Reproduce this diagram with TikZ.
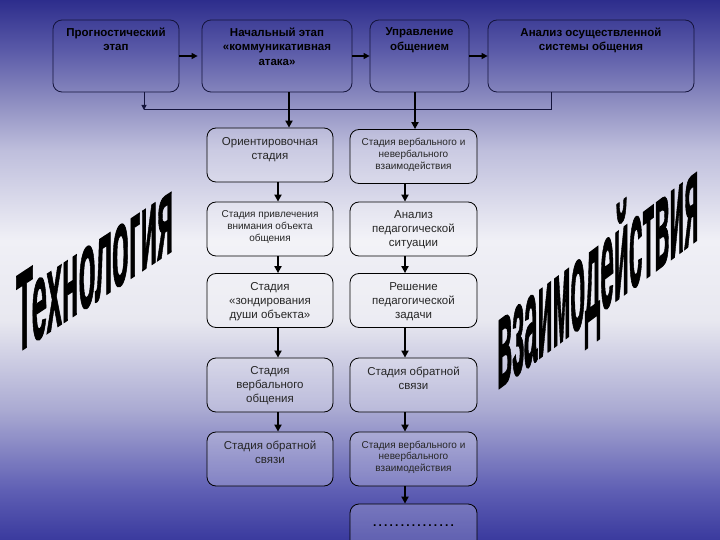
\documentclass[tikz,border=0pt]{standalone}
\usepackage{fontspec}
\setmainfont{Liberation Sans}
\newfontface\wafont{Liberation Sans Bold}[FakeBold=1.5]
\usetikzlibrary{arrows.meta}
\definecolor{s0}{RGB}{58,58,158}
\definecolor{s1}{RGB}{95,95,180}
\definecolor{s2}{RGB}{170,170,210}
\definecolor{s3}{RGB}{232,232,240}
\definecolor{s4}{RGB}{240,240,246}
\definecolor{s5}{RGB}{190,190,220}
\definecolor{s6}{RGB}{140,140,192}
\definecolor{s7}{RGB}{90,90,168}
\definecolor{s8}{RGB}{45,45,140}
\definecolor{topline}{RGB}{20,20,60}
\pgfdeclareverticalshading{bgshade}{100bp}{color(0bp)=(s0); color(25bp)=(s0); color(29.63bp)=(s1); color(37.04bp)=(s2); color(45.37bp)=(s3); color(52.78bp)=(s4); color(61.11bp)=(s5); color(65.74bp)=(s6); color(70.37bp)=(s7); color(75bp)=(s8); color(100bp)=(s8)}
\tikzset{
  topbox/.style={draw=topline, line width=0.8pt, rounded corners=9pt, minimum height=72pt, inner sep=0pt},
  colbox/.style={draw=black, line width=0.8pt, rounded corners=9pt, fill=white, fill opacity=0.2, minimum width=126pt, minimum height=54pt, inner sep=0pt},
  toptxt/.style={anchor=north, inner sep=0pt, align=center, font=\fontsize{11.5}{14.5}\selectfont\bfseries, text=black},
  bigtxt/.style={anchor=north, inner sep=0pt, align=center, font=\fontsize{11.5}{14}\selectfont, text=black!85},
  smalltxt/.style={anchor=north, inner sep=0pt, align=center, font=\fontsize{10}{11.8}\selectfont, text=black!85},
  harr/.style={line width=1.3pt, -{Triangle[length=6pt,width=6pt]}},
  varr/.style={line width=1.8pt, -{Triangle[length=7pt,width=7pt]}},
  fbline/.style={line width=1pt, draw=topline},
  fbarr/.style={line width=1pt, draw=topline, -{Triangle[length=5pt,width=5pt]}},
  wa/.style={font=\fontsize{40}{40}\selectfont\wafont, text=black, inner sep=0pt, anchor=base west, transform shape}
}
\begin{document}
\begin{tikzpicture}[x=1pt,y=-1pt]
\useasboundingbox (0,0) rectangle (720,540);
\shade[shading=bgshade] (0,0) rectangle (720,540);

% big slanted words
\begin{scope}[shift={(16,354)}, yslant=0.66, xscale=0.69, yscale=2.8]
\node[wa] (w1) at (0,0) {Технология};
\end{scope}
\begin{scope}[shift={(497,390)}, yslant=0.75, xscale=0.61, yscale=3.2]
\node[wa] (w2) at (0,0) {взаимодействия};
\end{scope}

% top row
\node[topbox, minimum width=126pt] (t1) at (116,56) {};
\node[topbox, minimum width=150pt] (t2) at (277,56) {};
\node[topbox, minimum width=99pt] (t3) at (419.5,56) {};
\node[topbox, minimum width=206pt] (t4) at (591,56) {};
\node[toptxt] (t1x) at ([yshift=-8pt]t1.north) {Прогностический\\этап};
\node[toptxt] (t2x) at ([yshift=-8pt]t2.north) {Начальный этап\\«коммуникативная\\атака»};
\node[toptxt] (t3x) at ([yshift=-8pt]t3.north) {Управление\\общением};
\node[toptxt] (t4x) at ([yshift=-8pt]t4.north) {Анализ осуществленной\\системы общения};

% columns
\node[colbox] (L1) at (270,155) {};
\node[colbox] (L2) at (270,229) {};
\node[colbox] (L3) at (270,300.5) {};
\node[colbox] (L4) at (270,385) {};
\node[colbox] (L5) at (270,459) {};
\node[colbox, minimum width=127pt] (R1) at (413.5,156.5) {};
\node[colbox, minimum width=127pt] (R2) at (413.5,229) {};
\node[colbox, minimum width=127pt] (R3) at (413.5,300.5) {};
\node[colbox, minimum width=127pt] (R4) at (413.5,385) {};
\node[colbox, minimum width=127pt] (R5) at (413.5,459) {};
\node[colbox, minimum width=127pt] (R6) at (413.5,531) {};

\node[bigtxt] (L1x) at ([yshift=-10pt]L1.north) {Ориентировочная\\стадия};
\node[smalltxt] (L2x) at ([yshift=-9pt]L2.north) {Стадия привлечения\\внимания объекта\\общения};
\node[bigtxt] (L3x) at ([yshift=-9pt]L3.north) {Стадия\\«зондирования\\души объекта»};
\node[bigtxt] (L4x) at ([yshift=-9pt]L4.north) {Стадия\\вербального\\общения};
\node[bigtxt] (L5x) at ([yshift=-9pt]L5.north) {Стадия обратной\\связи};
\node[smalltxt] (R1x) at ([yshift=-9pt]R1.north) {Стадия вербального и\\невербального\\взаимодействия};
\node[bigtxt] (R2x) at ([yshift=-9pt]R2.north) {Анализ\\педагогической\\ситуации};
\node[bigtxt] (R3x) at ([yshift=-9pt]R3.north) {Решение\\педагогической\\задачи};
\node[bigtxt] (R4x) at ([yshift=-9pt]R4.north) {Стадия обратной\\связи};
\node[smalltxt] (R5x) at ([yshift=-9pt]R5.north) {Стадия вербального и\\невербального\\взаимодействия};
\node[bigtxt, anchor=center, font=\fontsize{12}{14}\selectfont\bfseries, text=black] (R6x) at ([yshift=-22pt]R6.north) {.\kern2.2pt.\kern2.2pt.\kern2.2pt.\kern2.2pt.\kern2.2pt.\kern2.2pt.\kern2.2pt.\kern2.2pt.\kern2.2pt.\kern2.2pt.\kern2.2pt.\kern2.2pt.\kern2.2pt.\kern2.2pt.};

% connectors, top row
\draw[harr, shorten >=4pt] (t1.east) -- (t2.west);
\draw[harr] (t2.east) -- (t3.west);
\draw[harr] (t3.east) -- (t4.west);

\coordinate (fbL) at (144,110);
\coordinate (fbR) at (551,110);
\draw[fbline] (t4.south -| fbR) -- (fbR) -- (fbL);
\draw[fbarr] (t1.south -| fbL) -- (fbL);

\coordinate (xa) at (289,0);
\coordinate (xb) at (415,0);
\coordinate (xl) at (278,0);
\coordinate (xr) at (405,0);
\draw[varr] (t2.south -| xa) -- (L1.north -| xa);
\draw[varr] (t3.south -| xb) -- (R1.north -| xb);

\draw[varr] (L1.south -| xl) -- (L2.north -| xl);
\draw[varr] (L2.south -| xl) -- (L3.north -| xl);
\draw[varr] (L3.south -| xl) -- (L4.north -| xl);
\draw[varr] (L4.south -| xl) -- (L5.north -| xl);
\draw[varr] (R1.south -| xr) -- (R2.north -| xr);
\draw[varr] (R2.south -| xr) -- (R3.north -| xr);
\draw[varr] (R3.south -| xr) -- (R4.north -| xr);
\draw[varr] (R4.south -| xr) -- (R5.north -| xr);
\draw[varr] (R5.south -| xr) -- (R6.north -| xr);
\end{tikzpicture}
\end{document}
